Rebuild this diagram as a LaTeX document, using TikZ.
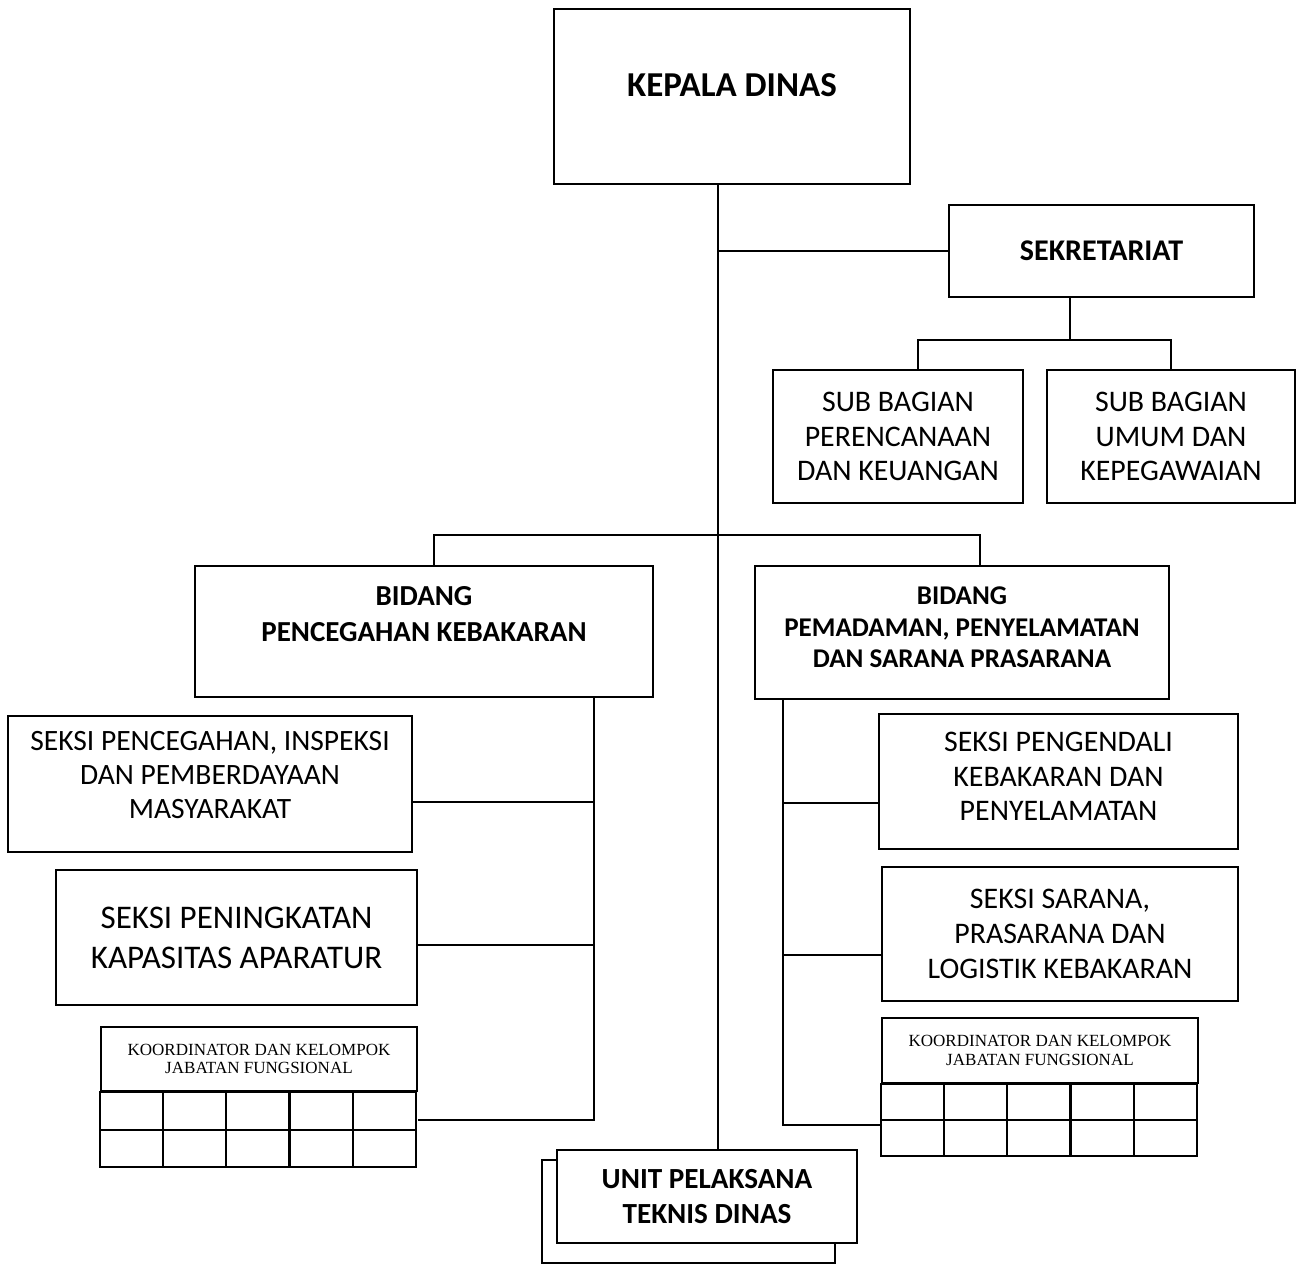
\documentclass[tikz,border=0pt]{standalone}
\usepackage{fontspec}
\setmainfont{Carlito}
\newfontfamily\koorfont{Liberation Serif}
\usepackage{tikz}

\tikzset{
  box/.style={draw, line width=1.3pt, rectangle, align=center, inner sep=0pt, fill=white},
  koor/.style={box, font=\koorfont\fontsize{9.7}{10.4}\selectfont},
  link/.style={line width=1.2pt},
}

\begin{document}
\begin{tikzpicture}[x=0.02cm, y=-0.02cm]
\useasboundingbox (0,0) rectangle (1301,1265);

\draw[line width=1.3pt] (542,1160) rectangle (835,1263);

\node[box, minimum width=7.12cm, minimum height=3.5cm, font=\bfseries\fontsize{19.9}{22}\selectfont] (kepala) at (732,96.5) {KEPALA DINAS\\[-9pt]\mbox{}};
\node[box, minimum width=6.1cm, minimum height=1.84cm, font=\bfseries\fontsize{17.1}{20}\selectfont] (sekretariat) at (1101.5,251) {SEKRETARIAT};
\node[box, minimum width=5cm, minimum height=2.66cm, font=\fontsize{17}{19.8}\selectfont] (perencanaan) at (898,436.5) {SUB BAGIAN\\PERENCANAAN\\DAN KEUANGAN};
\node[box, minimum width=4.96cm, minimum height=2.66cm, font=\fontsize{17}{19.8}\selectfont] (umum) at (1171,436.5) {SUB BAGIAN\\UMUM DAN\\KEPEGAWAIAN};

\node[box, minimum width=9.16cm, minimum height=2.62cm, font=\bfseries\fontsize{16.5}{20.4}\selectfont] (pencegahan) at (424,631.5) {BIDANG\\PENCEGAHAN KEBAKARAN\\\mbox{}};
\node[box, minimum width=8.28cm, minimum height=2.66cm, font=\bfseries\fontsize{15.4}{18.1}\selectfont] (pemadaman) at (962,632.5) {BIDANG\\PEMADAMAN, PENYELAMATAN\\DAN SARANA PRASARANA\\[-12pt]\mbox{}};

\node[box, minimum width=8.08cm, minimum height=2.72cm, font=\fontsize{16.8}{19.3}\selectfont] (inspeksi) at (210,784) {SEKSI PENCEGAHAN, INSPEKSI\\DAN PEMBERDAYAAN\\MASYARAKAT\\[-9pt]\mbox{}};
\node[box, minimum width=7.22cm, minimum height=2.7cm, font=\fontsize{18.8}{22.7}\selectfont] (peningkatan) at (236.5,937.5) {SEKSI PENINGKATAN\\KAPASITAS APARATUR};
\node[koor, minimum width=6.32cm, minimum height=1.28cm] (koordl) at (259,1059) {KOORDINATOR DAN KELOMPOK\\JABATAN FUNGSIONAL};

\node[box, minimum width=7.18cm, minimum height=2.7cm, font=\fontsize{17}{19.8}\selectfont] (pengendali) at (1058.5,781.5) {SEKSI PENGENDALI\\KEBAKARAN DAN\\PENYELAMATAN\\[-14pt]\mbox{}};
\node[box, minimum width=7.12cm, minimum height=2.68cm, font=\fontsize{17}{19.8}\selectfont] (sarana) at (1060,934) {SEKSI SARANA,\\PRASARANA DAN\\LOGISTIK KEBAKARAN};
\node[koor, minimum width=6.32cm, minimum height=1.3cm] (koordr) at (1040,1050.5) {KOORDINATOR DAN KELOMPOK\\JABATAN FUNGSIONAL};

\node[box, minimum width=6cm, minimum height=1.86cm, font=\bfseries\fontsize{16.6}{20.4}\selectfont] (upt) at (707,1196.5) {UNIT PELAKSANA\\TEKNIS DINAS};

\draw[line width=1.3pt] (koordl.south west) rectangle ++(316,75);
\draw[line width=1.3pt] (koordl.south west) ++(0,37.5) -- ++(316,0);
\foreach \i in {1,...,4}
  \draw[line width=1.3pt] (koordl.south west) ++(63.2*\i,0) -- ++(0,75);
\draw[line width=1.3pt] (koordr.south west) rectangle ++(316,72);
\draw[line width=1.3pt] (koordr.south west) ++(0,36) -- ++(316,0);
\foreach \i in {1,...,4}
  \draw[line width=1.3pt] (koordr.south west) ++(63.2*\i,0) -- ++(0,72);

\coordinate (spine) at (718,0);
\coordinate (sekbus) at (1070,340);
\coordinate (bidbus) at (718,535);
\coordinate (ltop) at ([xshift=0.2cm]pencegahan.north);
\coordinate (rtop) at ([xshift=0.36cm]pemadaman.north);
\coordinate (ltrunk) at ([xshift=3.4cm]pencegahan.south);
\coordinate (rtrunk) at ([xshift=-3.58cm]pemadaman.south);

\draw[link] (kepala.south -| spine) -- (upt.north -| spine);
\draw[link] (sekretariat.west) -- (sekretariat.west -| spine);
\draw[link] (sekretariat.south -| sekbus) -- (sekbus);
\draw[link] ([xshift=0.4cm]perencanaan.north) |- (sekbus) -| (umum.north);
\draw[link] (ltop) |- (bidbus) -| (rtop);

\draw[link] (ltrunk) |- ([yshift=-1.22cm]koordl.east);
\draw[link] (ltrunk) |- ([yshift=-0.36cm]inspeksi.east);
\draw[link] (ltrunk) |- ([yshift=-0.15cm]peningkatan.east);

\draw[link] (rtrunk) |- ([yshift=-1.49cm]koordr.west);
\draw[link] (rtrunk) |- ([yshift=-0.43cm]pengendali.west);
\draw[link] (rtrunk) |- ([yshift=-0.42cm]sarana.west);
\end{tikzpicture}
\end{document}
